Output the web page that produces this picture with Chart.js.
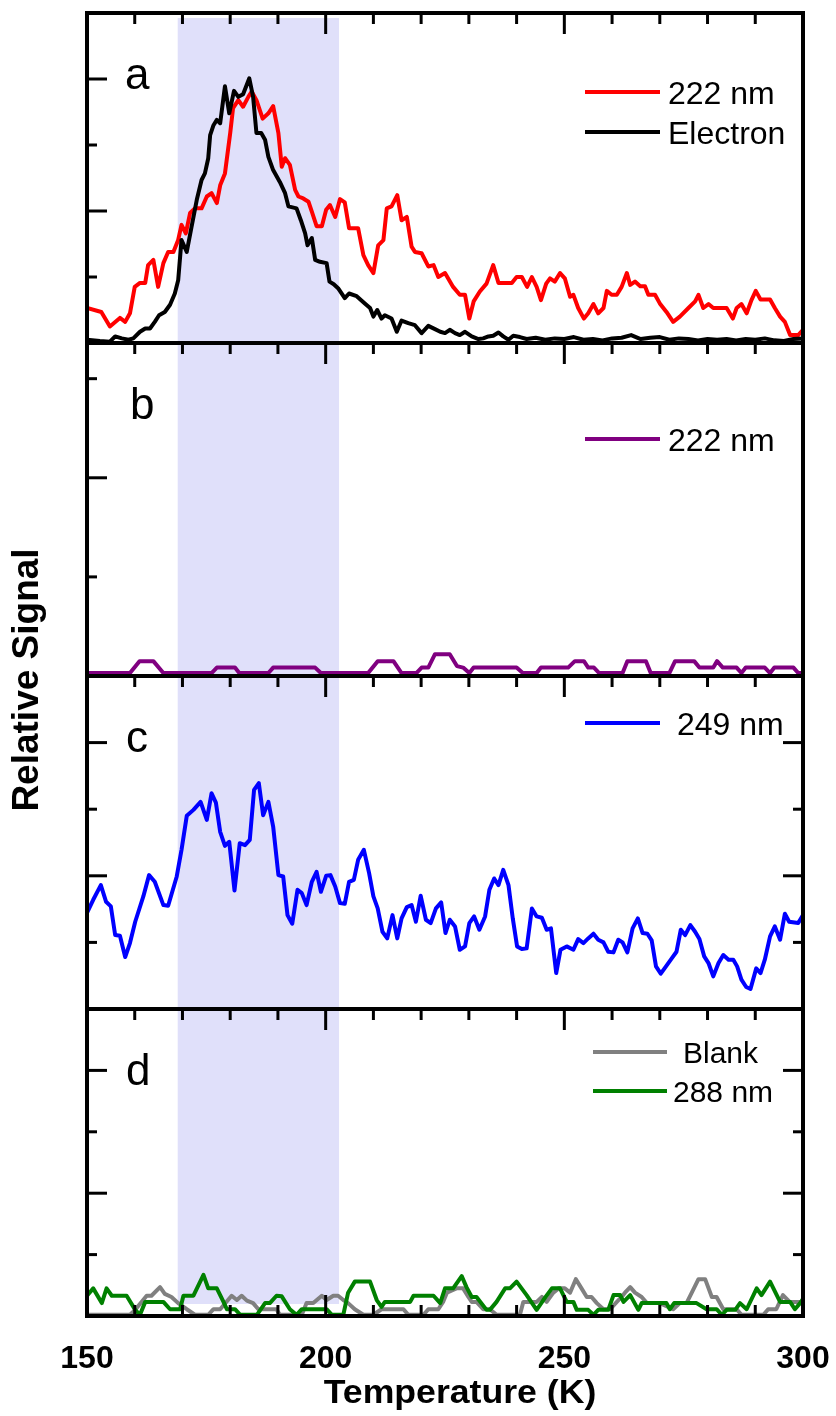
<!DOCTYPE html>
<html>
<head>
<meta charset="utf-8">
<script src="https://cdn.jsdelivr.net/npm/chart.js@4.4.1/dist/chart.umd.min.js"></script>
<style>
    html, body { margin: 0; padding: 0; background: #fff; }
    canvas { display: block; }
</style>
</head>
<body>
<canvas id="chart" width="836" height="1416"></canvas>
<script>
// temperature range and the shaded desorption window (K)
const xRange = [150, 300]
const xTicks = [150, 200, 250, 300]
const band = [169, 202.8]

// panel a: 222 nm ion signal and electron signal, [T, signal]
const ion222a = [[150,0.53],[153,0.47],[154.8,0.25],[156.9,0.38],[158,0.32],[159,0.45],[160,0.85],[161.1,0.91],[162.2,0.91],[162.8,1.18],[163.9,1.26],[164.9,0.85],[166,1.21],[167,1.38],[168.1,1.38],[169.1,1.56],[169.8,1.79],[170.7,1.66],[171.6,1.97],[172.6,2.04],[174,2.04],[175.1,2.22],[176.1,2.27],[177.2,2.12],[177.9,2.39],[178.9,2.57],[180,3.18],[180.6,3.56],[181.7,3.68],[182.7,3.58],[183.8,3.73],[184.5,3.81],[185.5,3.68],[186.8,3.40],[188,3.48],[189,3.59],[190.1,3.18],[190.8,2.67],[191.5,2.80],[192.5,2.70],[193.6,2.32],[194.3,2.22],[195.3,2.19],[196.4,2.14],[197.1,1.99],[198.1,1.77],[199.2,1.77],[200.1,2.02],[200.9,2.09],[202,1.91],[203,2.18],[204,2.13],[204.9,1.74],[206.8,1.74],[207.9,1.33],[208.9,1.18],[210,1.06],[211,1.48],[212.1,1.56],[212.8,2.04],[213.8,2.07],[215,2.24],[215.9,1.86],[217,1.91],[218,1.46],[218.7,1.38],[220.1,1.36],[221.5,1.16],[222.6,1.18],[223.6,1.00],[225,1.06],[226.7,0.85],[228.1,0.73],[229.2,0.73],[230.1,0.37],[231,0.63],[232.3,0.78],[233.7,0.90],[235.1,1.18],[236.2,0.91],[239,0.91],[240,1.00],[241.1,1.00],[242.2,0.85],[243.2,1.00],[244.2,0.85],[245.1,0.65],[246.2,0.90],[247,0.98],[248,0.93],[249.1,1.06],[250.1,0.98],[251.2,0.70],[251.9,0.73],[252.9,0.53],[254.1,0.37],[255,0.45],[256.1,0.59],[257.1,0.45],[258.2,0.53],[258.9,0.79],[259.9,0.73],[261,0.73],[262,0.85],[263.1,1.06],[263.8,0.88],[264.8,0.93],[265.9,0.86],[266.9,0.86],[267.6,0.73],[269,0.73],[270,0.60],[271.4,0.47],[272.8,0.32],[274.2,0.40],[276,0.53],[277.4,0.63],[278.1,0.73],[279.1,0.53],[280.2,0.59],[281.2,0.53],[284,0.53],[285.3,0.37],[286.1,0.53],[287.1,0.59],[288.2,0.45],[289.2,0.65],[290.1,0.79],[291.1,0.66],[293.1,0.66],[294.1,0.53],[295.2,0.40],[296.2,0.32],[297.3,0.12],[299,0.12],[300,0.20]]
const electron = [[150,0.05],[152.7,0.03],[154.8,0.02],[155.9,0.10],[157.3,0.07],[158.7,0.05],[159.7,0.07],[161.1,0.17],[162.2,0.22],[163.2,0.22],[164.2,0.32],[165.1,0.42],[166.3,0.47],[167.4,0.58],[168.4,0.75],[169.1,0.95],[169.8,1.56],[170.9,1.38],[171.9,1.76],[173,2.17],[174,2.47],[174.7,2.57],[175.4,2.80],[175.8,3.15],[176.5,3.30],[177.2,3.38],[177.9,3.33],[178.9,3.89],[179.8,3.48],[180.8,3.82],[181.7,3.73],[182.7,3.77],[184,4.01],[184.8,3.73],[185.5,3.18],[186.5,3.18],[187.3,3.08],[188,2.82],[189,2.62],[190.4,2.44],[191.5,2.27],[192.2,2.07],[193.9,2.04],[194.8,1.86],[195.7,1.66],[196.2,1.48],[197.1,1.59],[197.8,1.26],[198.8,1.23],[200.2,1.21],[200.8,0.93],[201.7,0.89],[202.6,0.83],[204,0.68],[204.9,0.75],[206.5,0.71],[208.2,0.60],[209.3,0.53],[210,0.40],[210.8,0.50],[211.7,0.37],[212.4,0.42],[213.8,0.37],[214.9,0.17],[215.9,0.34],[217.3,0.30],[218.7,0.27],[220.1,0.15],[221.5,0.26],[222.9,0.21],[224,0.17],[225,0.15],[226,0.20],[227.1,0.15],[228.1,0.12],[229.2,0.17],[230.6,0.10],[232,0.06],[233,0.07],[234.1,0.10],[235.1,0.11],[236.2,0.16],[237.2,0.10],[238.3,0.05],[239.3,0.11],[240.7,0.09],[242.1,0.06],[244,0.08],[246,0.05],[248,0.07],[250,0.06],[252,0.09],[254,0.05],[256,0.06],[258,0.04],[260,0.07],[262,0.08],[264,0.12],[266,0.06],[268,0.08],[270,0.09],[272,0.05],[274,0.07],[276,0.06],[278,0.04],[280,0.06],[282,0.05],[284,0.06],[286,0.04],[288,0.06],[290,0.05],[292,0.07],[294,0.04],[296,0.03],[298,0.06],[300,0.07]]

// panel b: 222 nm, second sample
const ion222b = [[150,0.03],[159,0.03],[161,0.15],[163.9,0.15],[166,0.03],[176.1,0.03],[177.2,0.085],[181,0.085],[181.9,0.03],[188,0.03],[189,0.085],[197.8,0.085],[199,0.03],[208.9,0.03],[210.9,0.15],[214.2,0.15],[215.9,0.03],[219,0.03],[220.1,0.085],[221.5,0.085],[222.9,0.22],[226,0.22],[227.5,0.1],[228.8,0.085],[230.1,0.03],[231,0.085],[240,0.085],[241.3,0.03],[244.2,0.03],[245.1,0.085],[250.8,0.085],[252.2,0.15],[254.1,0.15],[255,0.085],[256.2,0.085],[257.3,0.03],[262.2,0.03],[263.2,0.15],[267.1,0.15],[268.1,0.03],[272,0.03],[273.2,0.15],[277.2,0.15],[278.3,0.085],[281.2,0.085],[282,0.15],[283.2,0.085],[286.1,0.085],[287.1,0.03],[288,0.085],[292,0.085],[293.1,0.03],[294,0.085],[298,0.085],[299,0.03],[300,0.03]]

// panel c: 249 nm
const ion249 = [[150.1,1.46],[151.3,1.64],[152.9,1.86],[154,1.61],[155,1.54],[155.9,1.11],[156.9,1.10],[158,0.78],[159,0.99],[160.1,1.31],[161.8,1.69],[163,2.01],[164.2,1.91],[166,1.56],[167,1.55],[168.8,1.99],[169.8,2.39],[170.9,2.90],[172.3,2.99],[173.8,3.11],[175.1,2.84],[176.1,3.24],[177,3.10],[177.9,2.66],[178.9,2.45],[179.8,2.51],[180.9,1.78],[182,2.49],[183.1,2.46],[184.1,2.54],[185,3.29],[186,3.39],[186.9,2.91],[188,3.11],[189,2.74],[190.1,2.01],[191.1,1.99],[192,1.41],[193,1.28],[194.1,1.79],[195,1.74],[196,1.56],[197.1,1.91],[198.1,2.06],[199,1.76],[200.1,2.00],[201,2.01],[202,1.84],[203,1.59],[204,1.58],[204.9,1.91],[205.9,1.94],[206.8,2.24],[208,2.39],[209.1,2.04],[210,1.69],[210.9,1.51],[211.9,1.16],[212.9,1.06],[214,1.41],[215,1.06],[215.9,1.36],[217,1.53],[218,1.56],[218.9,1.31],[219.9,1.70],[221,1.34],[222,1.29],[223.1,1.51],[224.2,1.60],[225.1,1.14],[226,1.34],[227.1,1.24],[228.1,0.89],[229.2,0.94],[230.1,1.29],[231.1,1.39],[232.2,1.19],[233.4,1.39],[234.3,1.79],[235.3,1.96],[236.2,1.86],[237.2,2.09],[238.3,1.86],[239.2,1.36],[240.1,0.94],[241.1,0.90],[242.1,0.91],[243.2,1.51],[244.2,1.39],[245.3,1.37],[246.3,1.19],[247.2,1.21],[248.3,0.54],[249.2,0.89],[250.5,0.94],[251.9,0.89],[252.9,1.05],[254,0.99],[255,1.06],[256.1,1.13],[257.1,1.04],[258.2,1.00],[259.2,0.86],[260.3,0.85],[261.3,1.04],[262.2,1.00],[263.2,0.85],[264.3,1.21],[265.4,1.36],[266.4,1.14],[267.4,1.13],[268.3,1.03],[269.2,0.64],[270.2,0.53],[271.3,0.64],[272.5,0.76],[273.5,0.86],[274.4,1.19],[275.3,1.11],[276.4,1.26],[277.4,1.16],[278.3,1.05],[279.3,0.79],[280.2,0.69],[281.2,0.49],[282.3,0.69],[283.3,0.81],[284.4,0.74],[285.4,0.74],[286.2,0.64],[287.1,0.44],[288.1,0.33],[289,0.30],[290.2,0.61],[291.1,0.54],[292,0.74],[293.1,1.09],[294.1,1.24],[295.2,1.04],[296.2,1.43],[297.1,1.31],[299,1.29],[300,1.41]]

// panel d: blank and 288 nm
const blank = [[150,0.02],[159,0.02],[160.1,0.10],[162.5,0.33],[163.5,0.33],[165.3,0.47],[166.3,0.36],[167.7,0.31],[169.1,0.21],[170.9,0.11],[172.6,0.02],[175.4,0.02],[176.5,0.11],[177.9,0.11],[180.3,0.33],[181.4,0.26],[182.4,0.33],[183.5,0.25],[184.8,0.21],[185.9,0.11],[189.7,0.11],[190.4,0.02],[195,0.02],[196,0.21],[197.4,0.21],[199.2,0.33],[200.2,0.26],[201.6,0.33],[202.6,0.33],[203.7,0.26],[204.7,0.21],[206.1,0.11],[207.9,0.02],[210,0.02],[211.7,0.11],[216.3,0.11],[217.3,0.02],[220.5,0.02],[221.5,0.11],[223.6,0.11],[224.6,0.23],[225.4,0.38],[227.4,0.45],[228.8,0.45],[229.9,0.31],[230.6,0.23],[231.6,0.23],[233,0.11],[234.4,0.11],[235.8,0.02],[240.7,0.02],[241.4,0.23],[244.2,0.23],[245.3,0.31],[246.3,0.23],[247.7,0.38],[248.8,0.45],[250.1,0.45],[251.2,0.38],[252.4,0.60],[253.6,0.45],[254.7,0.31],[255.7,0.31],[256.8,0.21],[258.2,0.11],[259.6,0.11],[261,0.23],[262,0.31],[262.7,0.38],[263.8,0.47],[264.8,0.38],[266.2,0.31],[267.3,0.21],[270,0.21],[272.8,0.11],[274.2,0.21],[275.6,0.21],[276.7,0.38],[278.1,0.60],[279.5,0.60],[280.9,0.31],[281.9,0.31],[283.3,0.11],[286.1,0.11],[287.1,0.02],[291.7,0.02],[292.7,0.11],[294.4,0.11],[295.8,0.34],[297.2,0.23],[300,0.23]]
const ion288 = [[150,0.33],[151.3,0.45],[153.1,0.21],[154.1,0.45],[155.2,0.33],[158.3,0.33],[160.1,0.10],[161.1,0.02],[162.2,0.23],[166,0.23],[167.4,0.11],[169.5,0.11],[170.2,0.33],[172.3,0.33],[174.4,0.67],[175.4,0.45],[177.2,0.45],[178.6,0.23],[179.3,0.11],[181,0.11],[182.1,0.02],[185.6,0.02],[187.3,0.21],[188.3,0.21],[189.7,0.33],[190.8,0.32],[192.5,0.11],[193.9,0.02],[195,0.11],[200.2,0.11],[201.3,0.02],[203.7,0.02],[204.7,0.38],[206.1,0.56],[209.3,0.56],[210.7,0.26],[211.7,0.15],[212.4,0.23],[217.7,0.23],[218.4,0.33],[222.6,0.33],[224,0.21],[225,0.45],[226.7,0.45],[228.5,0.65],[229.5,0.47],[230.6,0.31],[231.6,0.31],[233.7,0.10],[234.4,0.10],[235.8,0.23],[237.6,0.45],[238.6,0.45],[240,0.56],[242.1,0.34],[244.2,0.10],[245.6,0.26],[247.4,0.45],[249.1,0.45],[250.5,0.23],[251.9,0.23],[252.6,0.10],[255,0.10],[256.1,0.02],[257.1,0.10],[259.2,0.10],[260.3,0.34],[261.7,0.34],[262.4,0.23],[263.8,0.34],[265.5,0.10],[266.2,0.21],[271.4,0.21],[272.1,0.11],[273,0.21],[277.7,0.21],[279.8,0.11],[281.9,0.11],[283,0.02],[284,0.10],[285.8,0.10],[286.8,0.21],[288.2,0.11],[290.3,0.45],[291.3,0.34],[293.1,0.56],[295.2,0.23],[297.3,0.23],[298.3,0.11],[299.4,0.21],[300,0.28]]

// panel layout: y axis id, letter, y max, stack weight, y tick values
const panels = [
    {id: 'ya', letter: 'a', max: 5, weight: 330, ticks: [1, 2, 3, 4], right: false, lx: 125},
    {id: 'yb', letter: 'b', max: 3.36, weight: 333, ticks: [1, 2, 3], right: false, lx: 130},
    {id: 'yc', letter: 'c', max: 5, weight: 333, ticks: [1, 2, 3, 4], right: true, lx: 126},
    {id: 'yd', letter: 'd', max: 5, weight: 307, ticks: [1, 2, 3, 4], right: true, lx: 126},
]

// datasets are listed top-most first
const series = [
    {label: 'Electron', data: electron, color: '#000000', axis: 'ya'},
    {label: '222 nm', data: ion222a, color: '#ff0000', axis: 'ya'},
    {label: '222 nm', data: ion222b, color: '#800080', axis: 'yb'},
    {label: '249 nm', data: ion249, color: '#0000ff', axis: 'yc'},
    {label: '288 nm', data: ion288, color: '#008000', axis: 'yd'},
    {label: 'Blank', data: blank, color: '#808080', axis: 'yd'},
]

// in-panel legends: dataset index, offset below panel top, line span, text start
const legends = [
    {panel: 'ya', size: 32, items: [{ds: 1, dy: 79, x0: 585, x1: 660, tx: 668}, {ds: 0, dy: 119, x0: 585, x1: 660, tx: 668}]},
    {panel: 'yb', size: 32, items: [{ds: 2, dy: 96, x0: 585, x1: 660, tx: 668}]},
    {panel: 'yc', size: 32, items: [{ds: 3, dy: 47, x0: 585, x1: 660, tx: 677}]},
    {panel: 'yd', size: 30, items: [{ds: 5, dy: 43, x0: 593, x1: 667, tx: 683}, {ds: 4, dy: 82, x0: 593, x1: 667, tx: 673}]},
]

const FONT = '"Liberation Sans", Arial, sans-serif'

function seg(ctx, x0, y0, x1, y1) {
    ctx.beginPath()
    ctx.moveTo(x0, y0)
    ctx.lineTo(x1, y1)
    ctx.stroke()
}

const panelPlugin = {
    id: 'panels',
    beforeDatasetsDraw(chart) {
        const {ctx, chartArea: ca, scales: {x}} = chart
        const x0 = x.getPixelForValue(band[0])
        const x1 = x.getPixelForValue(band[1])
        ctx.save()
        ctx.fillStyle = '#e0e0fa'
        ctx.fillRect(x0, ca.top + 5, x1 - x0, ca.bottom - ca.top - 17)
        ctx.restore()
    },
    afterDatasetsDraw(chart) {
        const {ctx, chartArea: ca, scales} = chart
        const x = scales.x
        ctx.save()
        ctx.strokeStyle = '#000'
        ctx.lineWidth = 3
        panels.forEach((p, i) => {
            const y = scales[p.id]
            // x ticks point inward from each panel top (and up from the last bottom)
            for (let t = xRange[0] + 10; t < xRange[1]; t += 10) {
                const px = x.getPixelForValue(t)
                const len = t % 50 === 0 ? 21 : 11
                seg(ctx, px, y.top, px, y.top + len)
                if (i === panels.length - 1) seg(ctx, px, y.bottom, px, y.bottom - len)
            }
            p.ticks.forEach(v => {
                const py = y.getPixelForValue(v)
                const len = v % 2 === 0 ? 20 : 10
                seg(ctx, ca.left, py, ca.left + len, py)
                if (p.right) seg(ctx, ca.right, py, ca.right - len, py)
            })
        })
        ctx.lineWidth = 4
        panels.forEach(p => seg(ctx, ca.left - 2, scales[p.id].top, ca.right + 2, scales[p.id].top))
        seg(ctx, ca.left - 2, ca.bottom, ca.right + 2, ca.bottom)
        seg(ctx, ca.left, ca.top, ca.left, ca.bottom)
        seg(ctx, ca.right, ca.top, ca.right, ca.bottom)
        ctx.restore()
    },
    afterDraw(chart) {
        const {ctx, chartArea: ca, scales} = chart
        ctx.save()
        ctx.fillStyle = '#000'
        ctx.textBaseline = 'alphabetic'
        ctx.textAlign = 'left'
        // panel letters
        ctx.font = `44px ${FONT}`
        panels.forEach(p => ctx.fillText(p.letter, p.lx, scales[p.id].top + 76))
        // legends
        legends.forEach(lg => {
            const top = scales[lg.panel].top
            ctx.font = `${lg.size}px ${FONT}`
            lg.items.forEach(it => {
                const ds = chart.data.datasets[it.ds]
                const ly = top + it.dy
                ctx.strokeStyle = ds.borderColor
                ctx.lineWidth = 4
                seg(ctx, it.x0, ly, it.x1, ly)
                ctx.fillText(ds.label, it.tx, ly + lg.size * 0.36)
            })
        })
        // axis titles
        ctx.font = `bold 33px ${FONT}`
        ctx.textAlign = 'center'
        ctx.save()
        ctx.translate((ca.left + ca.right) / 2 + 15, 1403)
        ctx.scale(1.08, 1)
        ctx.fillText('Temperature (K)', 0, 0)
        ctx.restore()
        ctx.save()
        ctx.font = `bold 37px ${FONT}`
        ctx.translate(28, 680)
        ctx.rotate(-Math.PI / 2)
        ctx.textBaseline = 'middle'
        ctx.fillText('Relative Signal', 0, 0)
        ctx.restore()
        ctx.restore()
    }
}

const yScales = {}
panels.forEach((p, i) => {
    yScales[p.id] = {
        type: 'linear',
        position: 'left',
        stack: 'panels',
        stackWeight: p.weight,
        weight: panels.length - i,
        min: 0,
        max: p.max,
        ticks: {display: false},
        grid: {display: false},
        border: {display: false},
        afterFit: s => { s.width = 0 }
    }
})

new Chart(document.getElementById('chart'), {
    type: 'line',
    data: {
        datasets: series.map(s => ({
            label: s.label,
            data: s.data.map(([t, v]) => ({x: t, y: v})),
            borderColor: s.color,
            borderWidth: 4,
            borderJoinStyle: 'round',
            borderCapStyle: 'round',
            yAxisID: s.axis,
            pointRadius: 0,
            tension: 0,
            fill: false
        }))
    },
    options: {
        responsive: false,
        animation: false,
        devicePixelRatio: 1,
        layout: {padding: {left: 87, right: 33, top: 13, bottom: 0}},
        plugins: {legend: {display: false}, tooltip: {enabled: false}},
        scales: {
            x: {
                type: 'linear',
                min: xRange[0],
                max: xRange[1],
                afterBuildTicks: s => { s.ticks = xTicks.map(v => ({value: v})) },
                ticks: {color: '#000', font: {family: FONT, size: 32, weight: 'bold'}, padding: 16, maxRotation: 0},
                grid: {display: false},
                border: {display: false},
                afterFit: s => {
                    s.height = 100
                    s.paddingLeft = 0
                    s.paddingRight = 0
                }
            },
            ...yScales
        }
    },
    plugins: [panelPlugin]
})
</script>
</body>
</html>
